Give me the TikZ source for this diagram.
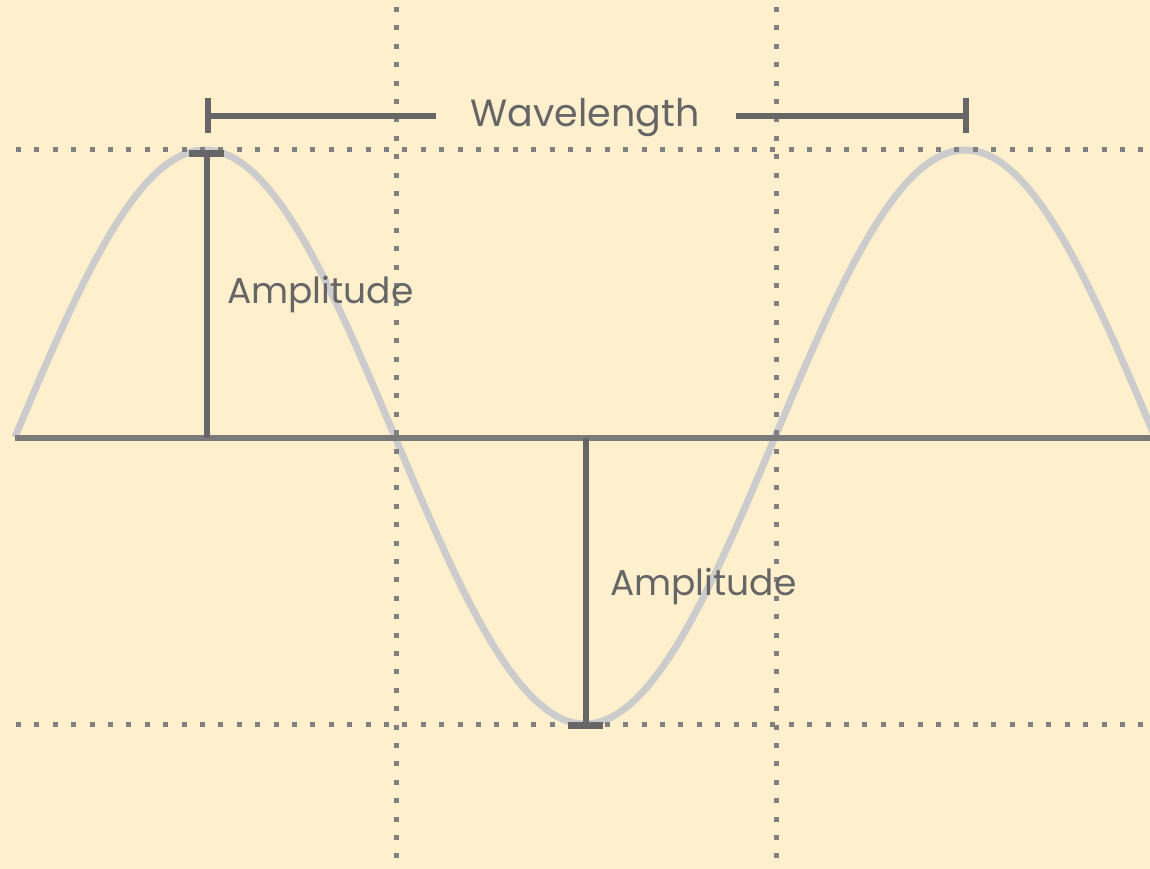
\documentclass[tikz,border=0pt]{standalone}
\usepackage{fontspec}
\setmainfont{Poppins}
\definecolor{bg}{HTML}{FFF0CD}
\definecolor{wave}{HTML}{CCCCCC}
\definecolor{dark}{HTML}{666666}
\definecolor{axisc}{HTML}{7A7A7A}
\definecolor{dotc}{HTML}{808080}
\tikzset{
  dotline/.style={dotc, line width=5pt, dash pattern=on 5pt off 13.4pt},
  bar/.style={dark, line width=6pt},
  lbl/.style={text=dark, inner sep=0pt},
}
\begin{document}
\begin{tikzpicture}[x=1pt,y=-1pt]
\fill[bg] (0,0) rectangle (1150,869);
\useasboundingbox (0,0) rectangle (1150,869);
% wave
\draw[wave, line width=7pt] plot[domain=15:1160,samples=300] (\x,{437-287*sin((\x-15)/760*360)});
% dotted guides
\coordinate (ht1) at (16,150); \coordinate (ht2) at (1150,150);
\coordinate (hb1) at (16,724); \coordinate (hb2) at (1150,724);
\coordinate (v1a) at (396,7); \coordinate (v1b) at (396,869);
\coordinate (v2a) at (776,7); \coordinate (v2b) at (776,869);
\draw[dotline] (ht1) -- (ht2);
\draw[dotline] (hb1) -- (hb2);
\draw[dotline] (v1a) -- (v1b);
\draw[dotline] (v2a) -- (v2b);
% axis
\coordinate (ax1) at (15,438); \coordinate (ax2) at (1150,438);
\draw[axisc, line width=6pt] (ax1) -- (ax2);
% wavelength
\node[lbl, font=\fontsize{38}{38}\selectfont, anchor=base] (wl) at (585,127) {Wavelength};
\coordinate (wlL) at (208,116); \coordinate (wlR) at (966,116);
\coordinate (wlLt) at (208,98); \coordinate (wlLb) at (208,133);
\coordinate (wlRt) at (966,98); \coordinate (wlRb) at (966,133);
\coordinate (wlA) at (436,116); \coordinate (wlB) at (736,116);
\draw[bar] (wlL) -- (wlA);
\draw[bar] (wlB) -- (wlR);
\draw[bar] (wlLt) -- (wlLb);
\draw[bar] (wlRt) -- (wlRb);
% amplitude 1
\coordinate (a1t) at (207,153); \coordinate (a1b) at (207,438);
\coordinate (c1l) at (189,153.5); \coordinate (c1r) at (224,153.5);
\draw[bar] (a1t) -- (a1b);
\draw[bar, line width=7pt] (c1l) -- (c1r);
\node[lbl, font=\fontsize{36}{36}\selectfont, anchor=base west] (amp1) at (227,303) {Amplitude};
% amplitude 2
\coordinate (a2t) at (586,438); \coordinate (a2b) at (586,725);
\coordinate (c2l) at (568,725); \coordinate (c2r) at (603,725);
\draw[bar] (a2t) -- (a2b);
\draw[bar, line width=7pt] (c2l) -- (c2r);
\node[lbl, font=\fontsize{36}{36}\selectfont, anchor=base west] (amp2) at (610,595) {Amplitude};
\end{tikzpicture}
\end{document}
